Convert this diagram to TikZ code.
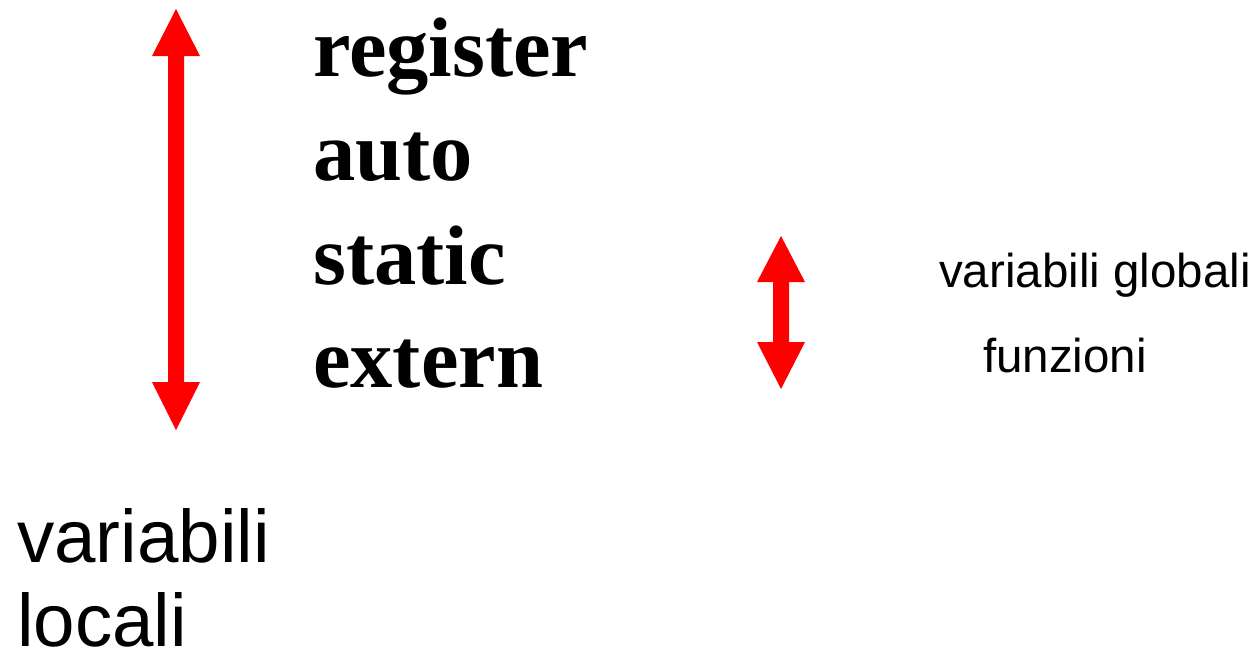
\documentclass[tikz,border=0pt]{standalone}
\usepackage{fontspec}
\setmainfont{Liberation Serif}
\setsansfont{Liberation Sans}
\definecolor{arrowred}{RGB}{255,0,0}
\begin{document}
\begin{tikzpicture}[x=1pt,y=-1pt,
  kw/.style={anchor=base west,inner sep=0pt,font=\fontsize{84.5}{90}\selectfont\bfseries},
  bigsans/.style={anchor=base west,inner sep=0pt,text depth=0pt,font=\fontsize{74.5}{80}\selectfont\sffamily},
  smallsans/.style={anchor=base west,inner sep=0pt,font=\fontsize{47.5}{52}\selectfont\sffamily},
  redarrow/.style={fill=arrowred,draw=none}]
\useasboundingbox (0,0) rectangle (1258,656);
% big double arrow
\fill[redarrow] (176,9) -- (200,56) -- (184,56) -- (184,382) -- (200,382) -- (176,430)
  -- (152,382) -- (168,382) -- (168,56) -- (152,56) -- cycle;
% small double arrow
\fill[redarrow] (781,236) -- (805,282) -- (789,282) -- (789,342) -- (805,342) -- (781,389)
  -- (757,342) -- (773,342) -- (773,282) -- (757,282) -- cycle;
\node[kw] (register) at (313,76) {register};
\node[kw] (auto) at (313,180) {auto};
\node[kw] (static) at (313,284) {static};
\node[kw] (extern) at (313,387) {extern};
\node[smallsans] (glob) at (939,287) {variabili globali};
\node[smallsans] (funz) at (983,372) {funzioni};
\node[bigsans] (var) at (17,562) {variabili};
\node[bigsans] (loc) at (17,646) {locali};
\end{tikzpicture}
\end{document}
